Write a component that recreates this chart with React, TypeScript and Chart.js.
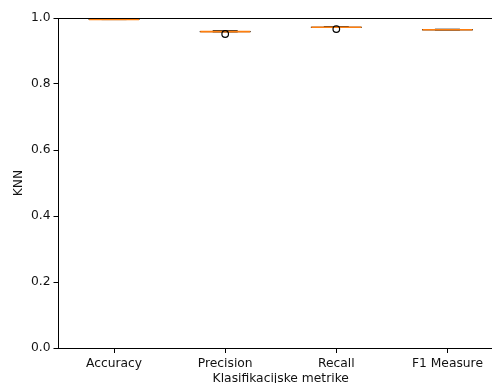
import React, { useEffect, useRef } from "react";
import { Chart, registerables } from "chart.js";

Chart.register(...registerables);

const categories = ["Accuracy", "Precision", "Recall", "F1 Measure"];
const whiskerLow = [0.9952, 0.9580, 0.9712, 0.9638];
const q1 = [0.9955, 0.9585, 0.9715, 0.9640];
const medians = [0.9958, 0.9588, 0.9718, 0.9645];
const q3 = [0.9961, 0.9592, 0.9721, 0.9650];
const whiskerHigh = [0.9965, 0.9615, 0.9735, 0.9660];
const outliers: number[][] = [[], [0.9515], [0.9665], []];
const yTicks = [0, 0.2, 0.4, 0.6, 0.8, 1.0];

const FONT = "'DejaVu Sans', sans-serif";

const boxPlugin = {
  id: "boxes",
  afterDatasetsDraw(chart: any) {
    const ctx = chart.ctx;
    const xs = chart.scales.x;
    const ys = chart.scales.y;
    const area = chart.chartArea;
    const spacing = xs.getPixelForValue(1) - xs.getPixelForValue(0);
    const boxHalf = spacing * 0.225;
    const capHalf = boxHalf / 2;
    ctx.save();
    categories.forEach((_, i) => {
      const cx = xs.getPixelForValue(i);
      const yLow = ys.getPixelForValue(whiskerLow[i]);
      const yQ1 = ys.getPixelForValue(q1[i]);
      const yMed = ys.getPixelForValue(medians[i]);
      const yQ3 = ys.getPixelForValue(q3[i]);
      const yHigh = ys.getPixelForValue(whiskerHigh[i]);
      ctx.strokeStyle = "#000";
      ctx.lineWidth = 1;
      // whiskers
      ctx.beginPath();
      ctx.moveTo(cx, yQ1);
      ctx.lineTo(cx, yLow);
      ctx.moveTo(cx, yQ3);
      ctx.lineTo(cx, yHigh);
      ctx.stroke();
      // caps
      ctx.beginPath();
      ctx.moveTo(cx - capHalf, yLow);
      ctx.lineTo(cx + capHalf, yLow);
      ctx.moveTo(cx - capHalf, yHigh);
      ctx.lineTo(cx + capHalf, yHigh);
      ctx.stroke();
      // box
      ctx.lineWidth = 0.9;
      ctx.strokeRect(cx - boxHalf, yQ3, boxHalf * 2, yQ1 - yQ3);
      // median
      ctx.strokeStyle = "#ff7f0e";
      ctx.lineWidth = 1.6;
      ctx.beginPath();
      ctx.moveTo(cx - boxHalf, yMed);
      ctx.lineTo(cx + boxHalf, yMed);
      ctx.stroke();
      // outliers
      ctx.strokeStyle = "#000";
      ctx.lineWidth = 1.2;
      outliers[i].forEach((v) => {
        const oy = ys.getPixelForValue(v);
        ctx.beginPath();
        ctx.arc(cx, oy, 3.3, 0, Math.PI * 2);
        ctx.stroke();
      });
    });
    // top and right spines
    ctx.strokeStyle = "#000";
    ctx.lineWidth = 1;
    ctx.beginPath();
    ctx.moveTo(area.left, Math.round(area.top) + 0.5);
    ctx.lineTo(area.right, Math.round(area.top) + 0.5);
    ctx.moveTo(Math.round(area.right) - 0.5, area.top);
    ctx.lineTo(Math.round(area.right) - 0.5, area.bottom);
    ctx.stroke();
    ctx.restore();
  },
};

export default function App() {
  const ref = useRef<HTMLCanvasElement>(null);
  useEffect(() => {
    if (!ref.current) return;
    const chart = new Chart(ref.current, {
      type: "line",
      data: {
        labels: categories,
        datasets: [
          {
            data: [],
            showLine: false,
            pointRadius: 0,
          },
        ],
      },
      options: {
        animation: false,
        responsive: false,
        devicePixelRatio: 1,
        layout: { padding: { top: 18, left: 0, right: 0, bottom: 0 } },
        plugins: { legend: { display: false }, tooltip: { enabled: false } },
        scales: {
          x: {
            type: "category",
            offset: true,
            grid: {
              display: true,
              drawOnChartArea: false,
              drawTicks: true,
              tickLength: 5,
              color: "#000",
            },
            border: { display: true, color: "#000", width: 1 },
            ticks: { color: "#111", font: { family: FONT, size: 12.3 }, padding: 3, maxRotation: 0 },
            title: {
              display: true,
              text: "Klasifikacijske metrike",
              color: "#111",
              font: { family: FONT, size: 12.3 },
              padding: { top: 0, bottom: 6 },
            },
            afterFit: (s: any) => {
              s.height = 44;
            },
          },
          y: {
            min: 0,
            max: 1,
            afterBuildTicks: (s: any) => {
              s.ticks = yTicks.map((v) => ({ value: v }));
            },
            grid: {
              display: true,
              drawOnChartArea: false,
              drawTicks: true,
              tickLength: 5,
              color: "#000",
            },
            border: { display: true, color: "#000", width: 1 },
            ticks: {
              color: "#111",
              font: { family: FONT, size: 12.3 },
              padding: 3,
              callback: (v: any) => Number(v).toFixed(1),
            },
            title: {
              display: true,
              text: "KNN",
              color: "#111",
              font: { family: FONT, size: 12.3 },
              padding: { top: 11, bottom: 0 },
            },
            afterFit: (s: any) => {
              s.width = 58.5;
            },
          },
        },
      },
      plugins: [boxPlugin],
    });
    return () => chart.destroy();
  }, []);
  return (
    <div
      style={{
        position: "fixed",
        left: 0,
        top: 0,
        width: 492,
        height: 383,
        overflow: "hidden",
        background: "#fff",
      }}
    >
      <canvas ref={ref} width={503} height={392} style={{ display: "block" }} />
    </div>
  );
}
